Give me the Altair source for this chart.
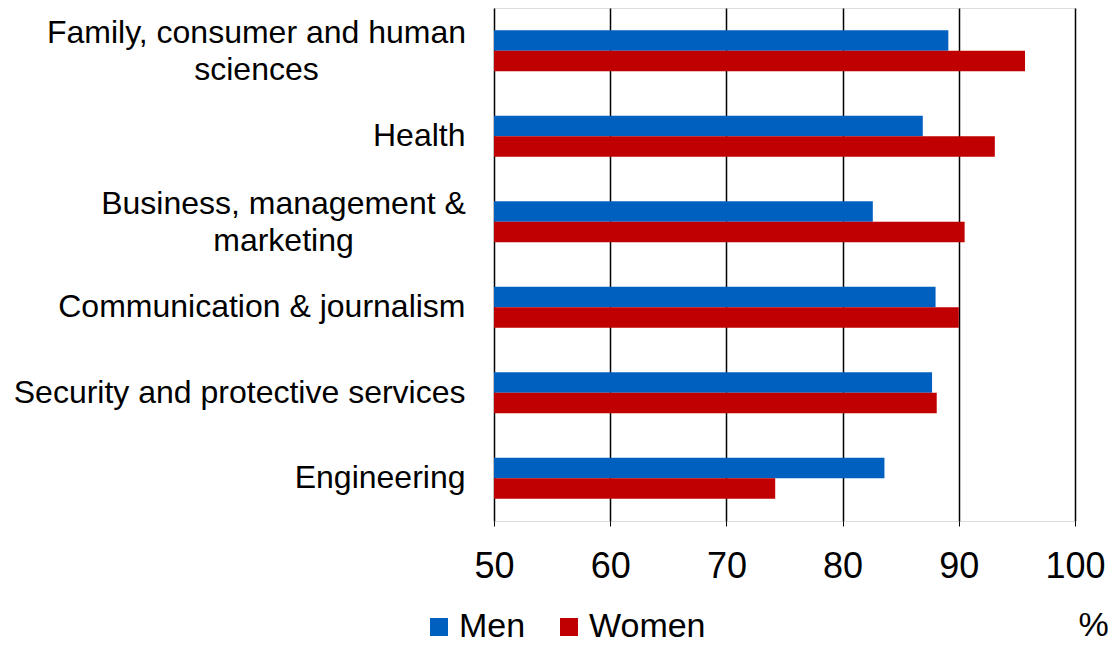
import altair as alt
import pandas as pd

categories = [
    "Family, consumer and human sciences",
    "Health",
    "Business, management & marketing",
    "Communication & journalism",
    "Security and protective services",
    "Engineering",
]
# display lines for each category
label_lines = [
    ["Family, consumer and human", "sciences"],
    ["Health"],
    ["Business, management &", "marketing"],
    ["Communication & journalism"],
    ["Security and protective services"],
    ["Engineering"],
]
men = [89.1, 86.9, 82.6, 88.0, 87.7, 83.6]
women = [95.7, 93.1, 90.5, 90.0, 88.1, 74.2]
series = ["Men", "Women"]
colors = ["#0060C0", "#C00000"]
x_ticks = [50, 60, 70, 80, 90, 100]

labels = ["|".join(l) for l in label_lines]

rows = []
for lab, m, w in zip(labels, men, women):
    rows.append({"cat": lab, "sex": "Men", "val": m})
    rows.append({"cat": lab, "sex": "Women", "val": w})
df = pd.DataFrame(rows)

font = "Liberation Sans"
multi = "indexof(datum.value, '|') >= 0"

chart = alt.Chart(df).mark_bar().encode(
    y=alt.Y("cat:N", sort=labels,
            scale=alt.Scale(paddingInner=0.52, paddingOuter=0.26),
            axis=alt.Axis(title=None, labelExpr="split(datum.label, '|')",
                          labelFontSize=32, labelFont=font, labelColor="black",
                          labelAlign={"condition": {"test": multi, "value": "center"}, "value": "right"},
                          labelPadding={"condition": [
                              {"test": "indexof(datum.value, 'Family') >= 0", "value": 238},
                              {"test": "indexof(datum.value, 'Business') >= 0", "value": 211}],
                              "value": 29},
                          labelOffset={"condition": {"test": multi, "value": -18}, "value": 0},
                          labelLineHeight=37, ticks=False,
                          domain=False, grid=False, labelLimit=600)),
    yOffset=alt.YOffset("sex:N", sort=series, scale=alt.Scale(paddingInner=0)),
    x=alt.X("val:Q", scale=alt.Scale(domain=[50, 100], zero=False, nice=False),
            axis=alt.Axis(values=x_ticks, title="%", labelFontSize=36, labelFont=font,
                          labelColor="black", labelPadding=23, labelFlush=False, grid=True,
                          gridColor="black", gridWidth=1.5, gridOpacity=1,
                          domain=False, ticks=True, tickColor="black", tickSize=5,
                          titleFont=font, titleFontSize=34, titleFontWeight="normal",
                          titleColor="black", titleX=599, titleY=104,
                          titleBaseline="middle", titleAlign="center")),
    x2=alt.datum(50),
    color=alt.Color("sex:N", sort=series,
                    scale=alt.Scale(domain=series, range=colors),
                    legend=alt.Legend(title=None, orient="none", legendX=-72, legendY=602,
                                      direction="horizontal", symbolType="square",
                                      symbolSize=324, symbolStrokeWidth=0,
                                      labelFontSize=34, labelFont=font,
                                      labelColor="black", labelOffset=3,
                                      columnPadding=26, padding=0)),
).properties(
    width=581, height=513,
    autosize=alt.AutoSizeParams(type="none"),
    padding={"left": 494, "top": 8, "right": 40, "bottom": 126},
).configure_view(stroke=None).configure(background="white")

chart.save("out.html", embed_options={"renderer": "svg", "actions": False})
